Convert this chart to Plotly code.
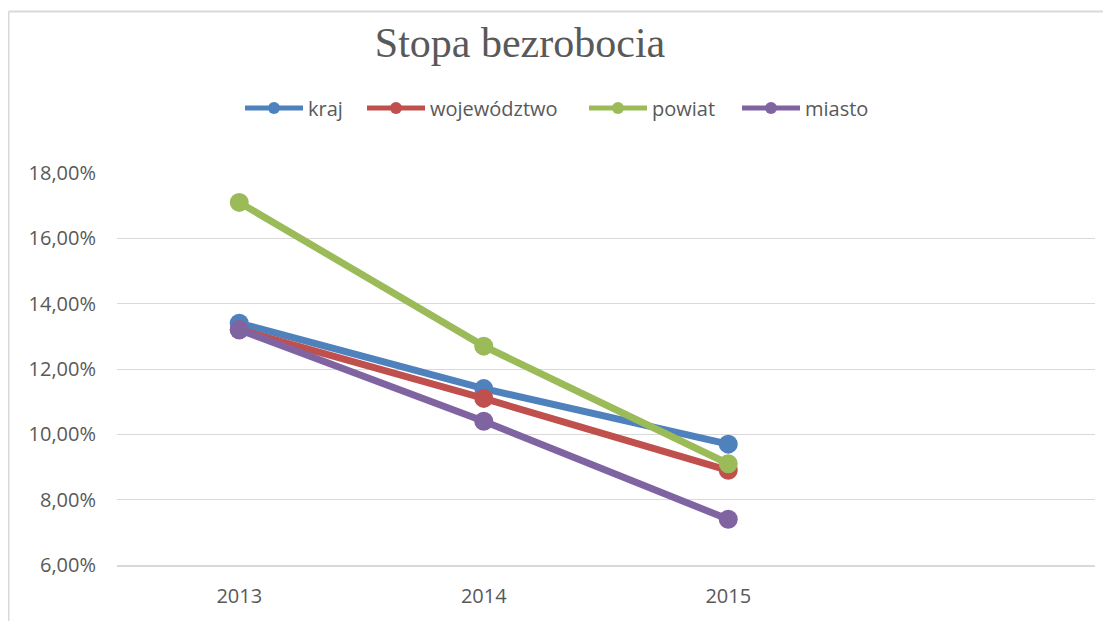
import plotly.graph_objects as go

years = [2013, 2014, 2015]
series_names = ['kraj', 'województwo', 'powiat', 'miasto']
kraj = [0.134, 0.114, 0.097]
wojewodztwo = [0.132, 0.111, 0.089]
powiat = [0.171, 0.127, 0.091]
miasto = [0.132, 0.104, 0.074]

colors = ['#4F81BD', '#C0504D', '#9BBB59', '#8064A2']
grey_text = '#595959'
grid = '#D9D9D9'

# page body has an 8px margin, so the figure is shifted by that much
OFF = 8
W, H = 1111 - OFF, 621 - OFF

# one legend per series so the entries sit where Excel put them
legend_ids = ['legend', 'legend2', 'legend3', 'legend4']
legend_left = [245, 367, 589, 742]

fig = go.Figure()
for name, vals, col, lid in zip(series_names, [kraj, wojewodztwo, powiat, miasto], colors, legend_ids):
    fig.add_trace(go.Scatter(
        x=years, y=vals, name=name, mode='lines+markers',
        line=dict(color=col, width=7),
        marker=dict(color=col, size=19),
        legend=lid,
    ))

legend_style = dict(
    orientation='h', xanchor='left', xref='container',
    y=1 - (108 - OFF) / H, yanchor='middle', yref='container',
    font=dict(size=20, color=grey_text),
    itemsizing='constant', itemwidth=58, bgcolor='rgba(0,0,0,0)',
)
legends = {lid: dict(legend_style, x=(left - OFF - 5) / W)
           for lid, left in zip(legend_ids, legend_left)}

plot_w, plot_h = 978, 392
border_x = (8.5 - 117) / plot_w
border_y = 1 + (173 - 11.5) / plot_h

fig.update_layout(
    width=W, height=H,
    paper_bgcolor='white', plot_bgcolor='white',
    margin=dict(l=117 - OFF, r=16, t=173 - OFF, b=56, autoexpand=False),
    separators=', ',
    font=dict(family='Open Sans', size=20, color=grey_text),
    title=dict(
        text='Stopa bezrobocia',
        font=dict(family='Liberation Serif', size=42, color=grey_text),
        x=(520 - OFF) / W, xanchor='center', xref='container',
        y=1 - (42 - OFF) / H, yanchor='middle', yref='container',
    ),
    showlegend=True,
    shapes=[
        dict(type='line', xref='paper', yref='paper',
             x0=border_x, x1=border_x, y0=border_y, y1=-0.3,
             line=dict(color=grid, width=2)),
        dict(type='line', xref='paper', yref='paper',
             x0=border_x, x1=1.1, y0=border_y, y1=border_y,
             line=dict(color=grid, width=2)),
    ],
    **legends,
)

fig.update_xaxes(
    range=[2012.5, 2016.5], tickvals=years, ticktext=[str(y) for y in years],
    showgrid=False, zeroline=False, automargin=False,
    showline=True, linecolor=grid, linewidth=2,
    ticks='', ticklabelstandoff=12,
    tickfont=dict(size=20, color=grey_text),
)
fig.update_yaxes(
    range=[0.06, 0.18], dtick=0.02, tickformat='.2%',
    showgrid=True, gridcolor=grid, gridwidth=1,
    zeroline=False, showline=False, automargin=False,
    ticks='', ticklabelstandoff=20,
    tickfont=dict(size=20, color=grey_text),
)

fig.write_html('out.html')
